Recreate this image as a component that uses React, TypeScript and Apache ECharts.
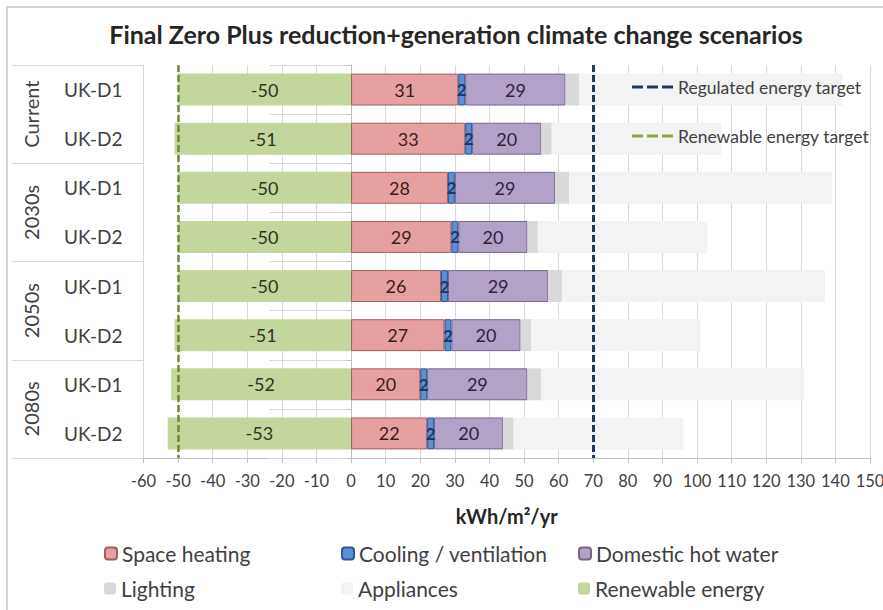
import React, { useEffect, useRef } from "react";
import * as echarts from "echarts";

const periods = ["Current", "2030s", "2050s", "2080s"];
const dwellings = ["UK-D1", "UK-D2"];
const rowKeys = periods.flatMap((p) => dwellings.map((d) => `${p}|${d}`));

const spaceHeating = [31, 33, 28, 29, 26, 27, 20, 22];
const cooling = [2, 2, 2, 2, 2, 2, 2, 2];
const hotWater = [29, 20, 29, 20, 29, 20, 29, 20];
const lighting = [4, 3, 4, 3, 4, 3, 4, 3];
const appliances = [76, 49, 76, 49, 76, 49, 76, 49];
const renewable = [-50, -51, -50, -50, -50, -51, -52, -53];

const regulatedTarget = 70;
const renewableTarget = -50;

const xMin = -60;
const xMax = 150;
const xStep = 10;

const FONT = 'Lato, "Noto Sans", sans-serif';
const DASH_ICON = "path://M0,0H11V3H0Z M15,0H26V3H15Z M30,0H41V3H30Z";

export default function App() {
  const ref = useRef<HTMLDivElement>(null);

  useEffect(() => {
    if (!ref.current) return;
    const chart = echarts.init(ref.current, null, { renderer: "svg" });

    const legendBase = {
      orient: "horizontal",
      padding: 0,
      itemWidth: 12,
      itemHeight: 12,
      selectedMode: false,
      textStyle: { fontFamily: FONT, fontSize: 21, color: "#404040" },
    };
    const targetLegend = {
      orient: "horizontal",
      padding: 0,
      itemWidth: 41,
      itemHeight: 3,
      icon: DASH_ICON,
      selectedMode: false,
      textStyle: { fontFamily: FONT, fontSize: 17.5, color: "#404040" },
    };

    const barLabel = (color: string, size = 18, weight = "normal") => ({
      show: true,
      position: "inside",
      fontFamily: FONT,
      fontSize: size,
      fontWeight: weight,
      color,
    });

    const option: any = {
      animation: false,
      backgroundColor: "#ffffff",
      textStyle: { fontFamily: FONT },
      title: {
        text: "Final Zero Plus reduction+generation climate change scenarios",
        left: 451,
        top: 16,
        textAlign: "center",
        textStyle: { fontFamily: FONT, fontSize: 25, fontWeight: "bold", color: "#262626" },
      },
      graphic: [
        {
          type: "rect",
          silent: true,
          z: -10,
          shape: { x: 7, y: 7, width: 900, height: 620 },
          style: { fill: "none", stroke: "#d4d4d4", lineWidth: 2 },
        },
      ],
      legend: [
        { ...legendBase, left: 104, top: 543, data: ["Space heating"] },
        { ...legendBase, left: 341, top: 543, data: ["Cooling / ventilation"] },
        { ...legendBase, left: 578, top: 543, data: ["Domestic hot water"] },
        { ...legendBase, left: 104, top: 578, data: ["Lighting"] },
        { ...legendBase, left: 341, top: 578, data: ["Appliances"] },
        { ...legendBase, left: 578, top: 578, data: ["Renewable energy"] },
        { ...targetLegend, left: 632, top: 78, data: ["Regulated energy target"] },
        { ...targetLegend, left: 632, top: 127, data: ["Renewable energy target"] },
      ],
      grid: {
        left: 143.5,
        right: 13,
        top: 65,
        bottom: 152,
        containLabel: false,
        outerBoundsMode: "none",
      },
      xAxis: {
        type: "value",
        min: xMin,
        max: xMax,
        interval: xStep,
        axisLine: { show: true, lineStyle: { color: "#bfbfbf" } },
        axisTick: { show: true, length: 5, lineStyle: { color: "#bfbfbf" } },
        splitLine: { show: true, lineStyle: { color: "#d9d9d9" } },
        axisLabel: { fontFamily: FONT, fontSize: 16.5, color: "#404040", margin: 14 },
        name: "kWh/m²/yr",
        nameLocation: "middle",
        nameGap: 48,
        nameTextStyle: { fontFamily: FONT, fontSize: 20, fontWeight: "bold", color: "#262626" },
      },
      yAxis: [
        {
          type: "category",
          position: "left",
          data: rowKeys,
          inverse: true,
          axisLine: { show: true, lineStyle: { color: "#bfbfbf" } },
          axisTick: { show: true, length: 82, lineStyle: { color: "#d9d9d9" } },
          axisLabel: {
            formatter: (v: string) => v.split("|")[1],
            fontFamily: FONT,
            fontSize: 19,
            color: "#404040",
            margin: 21,
          },
          splitLine: { show: false },
        },
        {
          type: "category",
          position: "left",
          data: periods,
          inverse: true,
          axisLine: { show: false },
          axisTick: { show: true, length: 131, lineStyle: { color: "#d9d9d9" } },
          axisLabel: { rotate: 90, fontFamily: FONT, fontSize: 20, color: "#404040", margin: 103 },
          splitLine: { show: false },
        },
        {
          type: "category",
          position: "left",
          data: rowKeys,
          inverse: true,
          offset: -207.5,
          axisLine: { show: false },
          axisTick: { show: true, length: 4, lineStyle: { color: "#bfbfbf" } },
          axisLabel: { show: false },
          splitLine: { show: false },
        },
      ],
      series: [
        {
          name: "Renewable energy",
          type: "bar",
          stack: "energy",
          barCategoryGap: "35%",
          data: renewable,
          itemStyle: { color: "#c3d69b" },
          label: barLabel("#2e3520"),
        },
        {
          name: "Space heating",
          type: "bar",
          stack: "energy",
          data: spaceHeating,
          itemStyle: { color: "#e6a0a2", borderColor: "#a35d5f", borderWidth: 1 },
          label: barLabel("#3d1c1c"),
        },
        {
          name: "Cooling / ventilation",
          type: "bar",
          stack: "energy",
          data: cooling,
          itemStyle: { color: "#5b8fd6", borderColor: "#2f5597", borderWidth: 1 },
          label: barLabel("#1f3864", 17, "bold"),
        },
        {
          name: "Domestic hot water",
          type: "bar",
          stack: "energy",
          data: hotWater,
          itemStyle: { color: "#b3a2c7", borderColor: "#76668e", borderWidth: 1 },
          label: barLabel("#2b2340"),
        },
        {
          name: "Lighting",
          type: "bar",
          stack: "energy",
          data: lighting,
          itemStyle: { color: "#d9d9d9" },
        },
        {
          name: "Appliances",
          type: "bar",
          stack: "energy",
          data: appliances,
          itemStyle: { color: "#f3f3f3" },
        },
        {
          name: "Regulated energy target",
          type: "line",
          data: [],
          symbol: "none",
          lineStyle: { color: "#1f3864", width: 3, type: [7, 3] },
          itemStyle: { color: "#1f3864" },
          markLine: {
            silent: true,
            symbol: "none",
            label: { show: false },
            lineStyle: { color: "#1f3864", width: 3, type: [7, 3] },
            data: [{ xAxis: regulatedTarget }],
          },
        },
        {
          name: "Renewable energy target",
          type: "line",
          data: [],
          symbol: "none",
          lineStyle: { color: "#77933c", width: 3, type: [7, 3] },
          itemStyle: { color: "#8aa84a" },
          markLine: {
            silent: true,
            symbol: "none",
            label: { show: false },
            lineStyle: { color: "#6f8a36", width: 2.5, type: [7, 3] },
            data: [{ xAxis: renewableTarget }],
          },
        },
      ],
    };

    chart.setOption(option);
    return () => chart.dispose();
  }, []);

  return (
    <div
      ref={ref}
      style={{ position: "absolute", left: 0, top: 0, width: 883, height: 610, background: "#fff" }}
    />
  );
}
